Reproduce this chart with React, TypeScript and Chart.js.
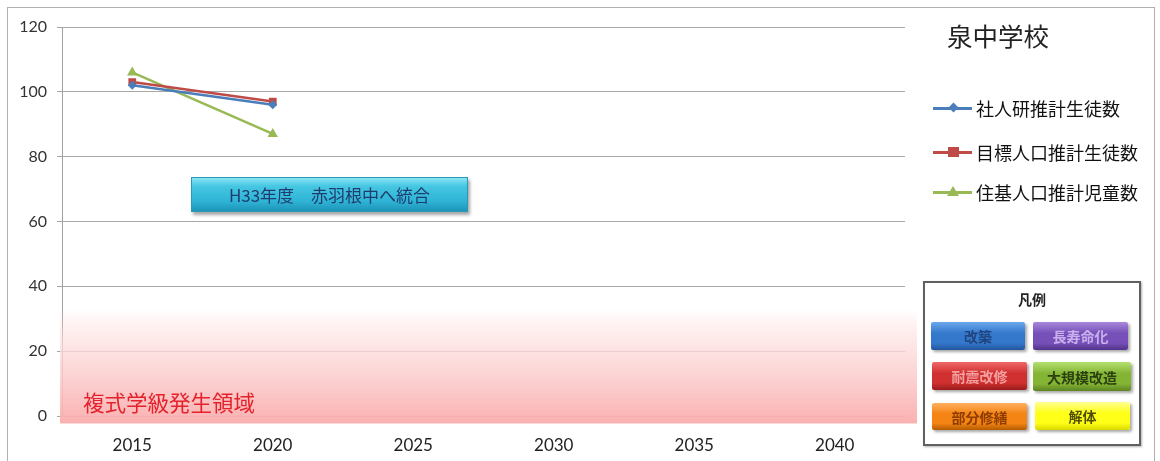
import React, { useEffect, useRef } from "react";
import { Chart, registerables } from "chart.js";

Chart.register(...registerables);

const years = ["2015", "2020", "2025", "2030", "2035", "2040"];
const seriesNames = ["社人研推計生徒数", "目標人口推計生徒数", "住基人口推計児童数"];
const shajinken = [102, 96, null, null, null, null];
const mokuhyo = [103, 97, null, null, null, null];
const juki = [106, 87, null, null, null, null];
const yMin = 0;
const yMax = 120;
const yStep = 20;
const bandTop = 33;
const bandBottom = -2.3;
const title = "泉中学校";
const bandLabel = "複式学級発生領域";
const noteLabel = "H33年度　赤羽根中へ統合";
const keyTitle = "凡例";
const keyItems = ["改築", "長寿命化", "耐震改修", "大規模改造", "部分修繕", "解体"];

const seriesColors = ["#4a7ebb", "#be4b48", "#98b954"];
const seriesStyles = ["rectRot", "rect", "triangle"];
const seriesRadius = [4.5, 5.5, 6];
const keyColors = [
  ["#6aa8ec", "#3478cc", "#22559a"],
  ["#a888dc", "#7650b8", "#52338a"],
  ["#f06868", "#d03030", "#981c1c"],
  ["#b4e070", "#84b434", "#5c8422"],
  ["#ffb060", "#f48414", "#b45c00"],
  ["#ffff90", "#ffff18", "#d8d800"],
];
const keyText = ["#1f447e", "#c8b0ee", "#f4a0a0", "#2a4010", "#8c3c00", "#505000"];

const CJK = '"Noto Sans CJK JP", "Noto Sans", sans-serif';
const NUM = 'Lato, "Open Sans", "Noto Sans", sans-serif';

const bandPlugin = {
  id: "band",
  beforeDatasetsDraw(chart: any) {
    const { ctx, chartArea, scales } = chart;
    const y = scales.y;
    const top = y.getPixelForValue(bandTop);
    const bottom = y.getPixelForValue(bandBottom);
    const g = ctx.createLinearGradient(0, top, 0, bottom);
    g.addColorStop(0, "rgba(255,215,215,0)");
    g.addColorStop(0.3, "rgba(253,222,222,0.75)");
    g.addColorStop(1, "rgba(250,172,172,0.95)");
    ctx.save();
    ctx.fillStyle = g;
    const left = chartArea.left - 2;
    const right = chartArea.right + 12;
    ctx.fillRect(left, top, right - left, bottom - top);
    ctx.restore();
  },
};

function Marker({ i }: { i: number }) {
  const c = seriesColors[i];
  let m: any;
  if (i === 0) m = <div style={{ position: "absolute", left: 17, top: -4, width: 7, height: 7, background: c, transform: "rotate(45deg)" }} />;
  else if (i === 1) m = <div style={{ position: "absolute", left: 15, top: -5, width: 11, height: 10, background: c }} />;
  else m = <div style={{ position: "absolute", left: 14, top: -6, width: 0, height: 0, borderLeft: "6px solid transparent", borderRight: "6px solid transparent", borderBottom: "10px solid " + c }} />;
  return (
    <div style={{ position: "relative", width: 39, height: 0 }}>
      <div style={{ position: "absolute", left: 0, top: -1.5, width: 39, height: 3, background: c }} />
      {m}
    </div>
  );
}

export default function App() {
  const ref = useRef<HTMLCanvasElement | null>(null);
  useEffect(() => {
    document.body.style.margin = "0";
    const data = [shajinken, mokuhyo, juki];
    const chart = new Chart(ref.current as HTMLCanvasElement, {
      type: "line",
      data: {
        labels: years,
        datasets: seriesNames.map((n, i) => ({
          label: n,
          data: data[i],
          borderColor: seriesColors[i],
          backgroundColor: seriesColors[i],
          borderWidth: 2.5,
          pointStyle: seriesStyles[i] as any,
          pointRadius: seriesRadius[i],
          pointBorderWidth: 0,
          spanGaps: false,
          tension: 0,
        })),
      },
      options: {
        animation: false,
        responsive: false,
        maintainAspectRatio: false,
        layout: { padding: { left: 0, right: 255, top: 27, bottom: 0 } },
        plugins: { legend: { display: false }, tooltip: { enabled: false } },
        scales: {
          x: {
            type: "category",
            offset: true,
            afterFit: (s: any) => { s.height = 45; },
            grid: { display: false, drawTicks: false },
            border: { display: false },
            ticks: { color: "#222", font: { family: NUM, size: 17 }, padding: 19, maxRotation: 0 },
          },
          y: {
            min: yMin,
            max: yMax,
            afterFit: (s: any) => { s.width = 62; },
            grid: { color: "#a8a8a8", lineWidth: 1, tickLength: 5, drawTicks: true },
            border: { display: true, color: "#a0a0a0", width: 1 },
            ticks: { stepSize: yStep, color: "#333", font: { family: NUM, size: 16 }, padding: 10 },
          },
        },
      },
      plugins: [bandPlugin],
    });
    return () => chart.destroy();
  }, []);

  const btn = (i: number, left: number, top: number, w: number, h: number) => {
    const [a, b, c] = keyColors[i];
    return (
      <div key={i} style={{
        position: "absolute", left, top, width: w, height: h,
        background: `linear-gradient(to bottom, ${a} 0%, ${b} 40%, ${b} 75%, ${c} 100%)`,
        borderRadius: 2, boxShadow: "2px 2px 3px rgba(0,0,0,0.35)",
        display: "flex", alignItems: "center", justifyContent: "center",
        fontFamily: CJK, fontSize: 14, fontWeight: 700, color: keyText[i],
      }}>{keyItems[i]}</div>
    );
  };

  return (
    <div style={{ position: "relative", width: 1160, height: 461, overflow: "hidden", background: "#fff" }}>
      <div style={{ position: "absolute", left: 7, top: 7, width: 1146, height: 480, border: "1px solid #b0b0b0" }} />
      <canvas ref={ref} width={1160} height={461} style={{ position: "absolute", left: 0, top: 0, width: 1160, height: 461 }} />
      <div style={{ position: "absolute", left: 947, top: 19, fontFamily: CJK, fontSize: 25.5, color: "#222", lineHeight: "32px" }}>{title}</div>
      {seriesNames.map((n, i) => (
        <div key={n} style={{ position: "absolute", left: 933, top: [108, 152, 192][i], display: "flex", alignItems: "center", height: 0 }}>
          <Marker i={i} />
          <div style={{ marginLeft: 4, fontFamily: CJK, fontSize: 18, color: "#111", whiteSpace: "nowrap", lineHeight: "22px", marginTop: -1 }}>{n}</div>
        </div>
      ))}
      <div style={{
        position: "absolute", left: 191, top: 177, width: 277, height: 35,
        background: "linear-gradient(to bottom, #8ae4f4 0%, #45c6e2 25%, #2fb4d6 70%, #1d94b8 100%)",
        border: "1px solid #2a9ab8", boxSizing: "border-box",
        boxShadow: "2px 3px 3px rgba(0,0,0,0.35)",
        display: "flex", alignItems: "center", justifyContent: "center",
        fontFamily: CJK, fontSize: 17, color: "#1f3c6e",
      }}>{noteLabel}</div>
      <div style={{ position: "absolute", left: 83, top: 388, fontFamily: CJK, fontSize: 21.5, color: "#e4222c", lineHeight: "28px", whiteSpace: "nowrap" }}>{bandLabel}</div>
      <div style={{ position: "absolute", left: 923, top: 281, width: 218, height: 165, border: "2px solid #606060", boxSizing: "border-box", background: "#fff", boxShadow: "1px 1px 2px rgba(0,0,0,0.3)" }}>
        <div style={{ position: "absolute", left: 0, width: "100%", top: 6, textAlign: "center", fontFamily: CJK, fontSize: 14, fontWeight: 700, color: "#222" }}>{keyTitle}</div>
      </div>
      {btn(0, 931, 322, 94, 28)}
      {btn(1, 1033, 322, 95, 28)}
      {btn(2, 932, 362, 95, 28)}
      {btn(3, 1033, 362, 98, 29)}
      {btn(4, 932, 403, 95, 27)}
      {btn(5, 1035, 402, 95, 28)}
    </div>
  );
}
